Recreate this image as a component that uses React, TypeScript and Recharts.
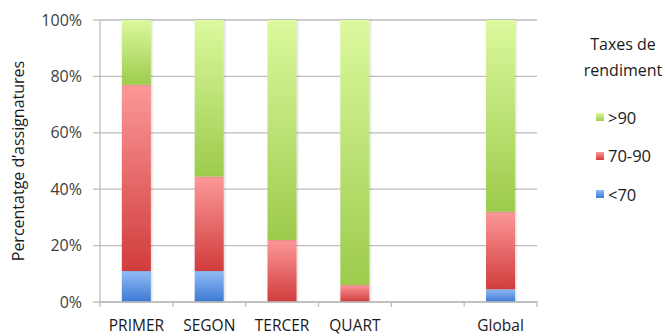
import React from "react";
import { BarChart, Bar, XAxis, YAxis, CartesianGrid } from "recharts";

// Course categories (the blank one leaves a gap before the overall bar)
const categories = ["PRIMER", "SEGON", "TERCER", "QUART", "", "Global"];
// Share of subjects per performance-rate band (%)
const below70 = [11, 11, 0, 0, 0, 4.5];
const from70to90 = [66, 33.5, 22, 6, 0, 27.5];
const above90 = [23, 55.5, 78, 94, 0, 68];

const yTicks = [0, 20, 40, 60, 80, 100];

const data = categories.map((name, i) => ({
  name,
  low: below70[i],
  mid: from70to90[i],
  high: above90[i],
}));

const FONT = "'Open Sans', 'Noto Sans', sans-serif";
const AXIS_GREY = "#bdbdbd";

const legendItems = [
  { label: ">90", fill: "url(#gHigh)" },
  { label: "70-90", fill: "url(#gMid)" },
  { label: "<70", fill: "url(#gLow)" },
];

// Category label with small tick marks on the band edges (between categories)
const CategoryTick = (props: any) => {
  const { x, y, payload, index, visibleTicksCount, width, y1 } = props;
  const half = width / visibleTicksCount / 2;
  const baseY = typeof y1 === "number" ? y1 : y - 19;
  return (
    <g>
      <line x1={x - half} x2={x - half} y1={baseY} y2={baseY + 6} stroke={AXIS_GREY} strokeWidth={1.3} />
      {index === visibleTicksCount - 1 && (
        <line x1={x + half} x2={x + half} y1={baseY} y2={baseY + 6} stroke={AXIS_GREY} strokeWidth={1.3} />
      )}
      <text x={x} y={y} dy="0.71em" textAnchor="middle" fill="#1a1a1a" fontSize={15.5} fontFamily={FONT}>
        {payload.value}
      </text>
    </g>
  );
};

const LegendBox = () => (
  <div style={{ position: "absolute", left: 568, top: 31, width: 110, fontFamily: FONT, color: "#1a1a1a" }}>
    <div style={{ textAlign: "center", fontSize: 16, lineHeight: "26px" }}>
      Taxes de
      <br />
      rendiment
    </div>
    <div style={{ height: 15 }} />
    {legendItems.map((it) => (
      <div
        key={it.label}
        style={{ display: "flex", alignItems: "center", height: 38.5, paddingLeft: 28, fontSize: 16.5 }}
      >
        <svg width={8} height={8} style={{ marginRight: 4 }}>
          <rect width={8} height={8} fill={it.fill} />
        </svg>
        {it.label}
      </div>
    ))}
  </div>
);

export default function App() {
  return (
    <div style={{ position: "absolute", left: 0, top: 0, width: 665, height: 336, background: "#fff" }}>
      <svg width={0} height={0} style={{ position: "absolute" }}>
        <defs>
          <linearGradient id="gHigh" x1="0" y1="0" x2="0" y2="1">
            <stop offset="0%" stopColor="#dcf99e" />
            <stop offset="100%" stopColor="#9ccb4c" />
          </linearGradient>
          <linearGradient id="gMid" x1="0" y1="0" x2="0" y2="1">
            <stop offset="0%" stopColor="#fc9898" />
            <stop offset="100%" stopColor="#d13c3c" />
          </linearGradient>
          <linearGradient id="gLow" x1="0" y1="0" x2="0" y2="1">
            <stop offset="0%" stopColor="#92bbf6" />
            <stop offset="100%" stopColor="#3c79d2" />
          </linearGradient>
          <filter id="barShadow" x="-20%" y="-5%" width="140%" height="110%">
            <feDropShadow dx="1" dy="0" stdDeviation="1" floodColor="#000" floodOpacity="0.18" />
          </filter>
        </defs>
      </svg>
      <BarChart
        width={665}
        height={336}
        data={data}
        margin={{ top: 20, right: 128, bottom: 0, left: 0 }}
        barCategoryGap="30%"
      >
        <CartesianGrid vertical={false} stroke={AXIS_GREY} strokeWidth={1.3} />
        <XAxis
          dataKey="name"
          height={34}
          axisLine={{ stroke: AXIS_GREY, strokeWidth: 1.3 }}
          tickLine={false}
          tickSize={6}
          tickMargin={12}
          tick={<CategoryTick />}
          interval={0}
        />
        <YAxis
          width={100}
          domain={[0, 100]}
          ticks={yTicks}
          tickFormatter={(v) => `${v}%`}
          axisLine={{ stroke: AXIS_GREY, strokeWidth: 1.3 }}
          tickLine={{ stroke: AXIS_GREY, strokeWidth: 1.3 }}
          tickSize={7}
          tickMargin={11}
          tick={{ fill: "#404040", fontSize: 16, fontFamily: FONT }}
          label={{
            value: "Percentatge d’assignatures",
            angle: -90,
            position: "insideLeft",
            offset: 18,
            style: { textAnchor: "middle", fill: "#1a1a1a", fontSize: 16, fontFamily: FONT },
          }}
        />
        <Bar dataKey="low" stackId="s" fill="url(#gLow)" filter="url(#barShadow)" isAnimationActive={false} />
        <Bar dataKey="mid" stackId="s" fill="url(#gMid)" filter="url(#barShadow)" isAnimationActive={false} />
        <Bar dataKey="high" stackId="s" fill="url(#gHigh)" filter="url(#barShadow)" isAnimationActive={false} />
      </BarChart>
      <LegendBox />
    </div>
  );
}
